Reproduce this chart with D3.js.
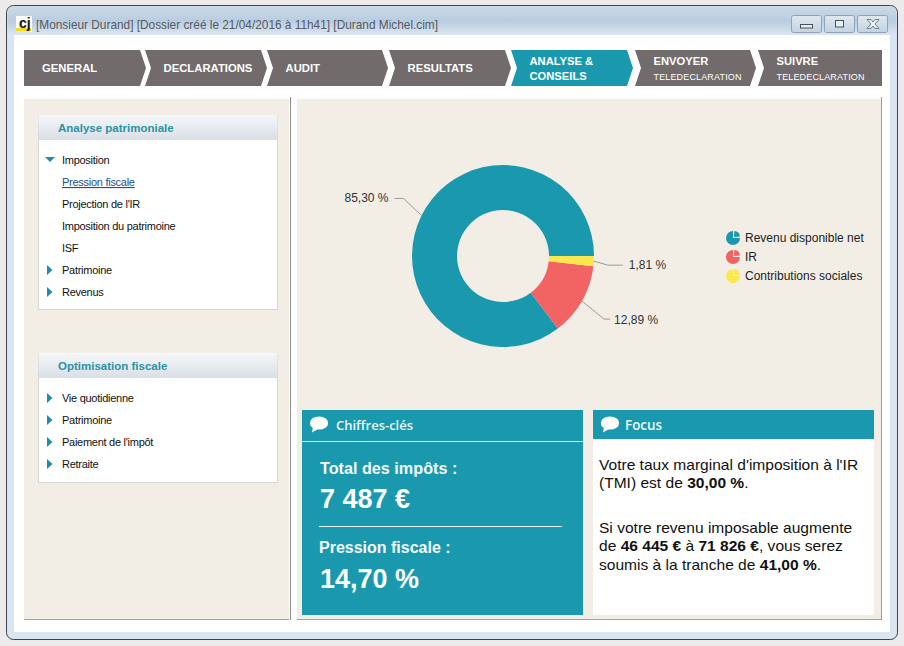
<!DOCTYPE html>
<html>
<head>
<meta charset="utf-8">
<script src="https://cdn.jsdelivr.net/npm/d3@7"></script>
<style>
  html, body { margin: 0; padding: 0; background: #eceaea; overflow: hidden; }
  svg { display: block; }
  text { font-family: "Liberation Sans", Arial, sans-serif; }
</style>
</head>
<body>
<div id="plot-container"></div>
<script>
// Chart values
const shareLabels = ["Revenu disponible net", "IR", "Contributions sociales"];
const shareValues = [85.30, 12.89, 1.81];
const shareTexts = ["85,30 %", "12,89 %", "1,81 %"];
const shareColors = ["#1a99ae", "#f26464", "#fde74e"];

// Screen texts
const navLabels = [["GENERAL"], ["DECLARATIONS"], ["AUDIT"], ["RESULTATS"], ["ANALYSE &", "CONSEILS"], ["ENVOYER", "TELEDECLARATION"], ["SUIVRE", "TELEDECLARATION"]];
const treeOne = ["Imposition", "Pression fiscale", "Projection de l'IR", "Imposition du patrimoine", "ISF", "Patrimoine", "Revenus"];
const treeTwo = ["Vie quotidienne", "Patrimoine", "Paiement de l'impôt", "Retraite"];

const teal = "#1a99ae", beige = "#f2eee6", grey = "#716c6b";

const svg = d3.select("#plot-container")
    .append("svg")
    .attr("width", 904)
    .attr("height", 646);

const defs = svg.append("defs");

function gradient(id, stops) {
    const g = defs.append("linearGradient").attr("id", id).attr("x1", 0).attr("y1", 0).attr("x2", 0).attr("y2", 1);
    stops.forEach((c, i) => g.append("stop").attr("offset", i / (stops.length - 1)).attr("stop-color", c));
}
gradient("titleBar", ["#cbd9e6", "#b9cde0", "#dce7f2"]);
gradient("boxHead", ["#f5f7f9", "#d9dfe7"]);
gradient("winButton", ["#dfe8f0", "#c3d3e2"]);

function rect(x, y, w, h, fill, parent) {
    return (parent || svg).append("rect").attr("x", x).attr("y", y).attr("width", w).attr("height", h).attr("fill", fill);
}
function label(x, y, str, size, color, weight, parent) {
    return (parent || svg).append("text").attr("x", x).attr("y", y).text(str)
        .attr("font-size", size).attr("fill", color).attr("font-weight", weight || "normal");
}
function hline(x1, x2, y, color) {
    svg.append("line").attr("x1", x1).attr("x2", x2).attr("y1", y).attr("y2", y).attr("stroke", color);
}

// Window frame
rect(6.5, 5.5, 891, 634, "#d9e5f0").attr("rx", 7).attr("stroke", "#3c4248");
rect(7.5, 6.5, 889, 29, "url(#titleBar)").attr("rx", 6);
rect(14, 35, 876, 597, "#fff");

// Title bar
rect(16, 16, 16, 16, "#fff");
rect(16, 28, 15, 3.5, "#f5dc1e");
label(19, 28, "cj", 14, "#111", "bold");
label(36, 29, "[Monsieur Durand] [Dossier créé le 21/04/2016 à 11h41] [Durand Michel.cim]", 11.85, "#555a60");

[791, 824, 857].forEach(x => {
    rect(x + 0.5, 15.5, 30, 17, "url(#winButton)").attr("rx", 2).attr("stroke", "#8ea3b7");
});
rect(800.5, 24.5, 12, 3.5, "#e6edf3").attr("stroke", "#4a5158");
rect(835.5, 20.5, 8, 6.5, "#e6edf3").attr("stroke", "#4a5158");
svg.append("path")
    .attr("d", "M867,19.5h4l2,2.5l2,-2.5h4l-4,4.5l4,4.5h-4l-2,-2.5l-2,2.5h-4l4,-4.5z")
    .attr("fill", "#eef3f7").attr("stroke", "#5a626a").attr("stroke-width", 0.8);

// Step bar
const navStarts = [24, 145, 267, 389, 511, 635, 758];
const navTips = [146, 267, 388, 511, 633, 756];
const navTop = 50, navBottom = 86, navMid = 68;
navLabels.forEach((lines, i) => {
    const x0 = navStarts[i], tip = navTips[i];
    const points = i === navLabels.length - 1
        ? [[x0, navTop], [882, navTop], [882, navBottom], [x0, navBottom], [x0 + 6, navMid]]
        : [[x0, navTop], [tip - 6, navTop], [tip, navMid], [tip - 6, navBottom], [x0, navBottom], [i ? x0 + 6 : x0, navMid]];
    svg.append("polygon").attr("points", points.join(" ")).attr("fill", i === 4 ? teal : grey);
    const tx = x0 + (i === 0 ? 18 : 18.5);
    if (lines.length === 1) {
        label(tx, 72, lines[0], 11.3, "#fff", "bold");
    } else {
        label(tx, 65, lines[0], 11.2, "#fff", "bold");
        if (lines[1] === "TELEDECLARATION") label(tx, 80, lines[1], 9, "#fff").attr("letter-spacing", 0.15);
        else label(tx, 80, lines[1], 11.2, "#fff", "bold");
    }
});

// Panels
rect(24, 99, 265, 520, beige);
rect(297, 99, 584, 520, beige);
svg.append("line").attr("x1", 290.5).attr("x2", 290.5).attr("y1", 97).attr("y2", 620).attr("stroke", "#8d8d8d");
hline(24, 289, 619.5, "#a8a296");
hline(297, 881, 619.5, "#a8a296");
svg.append("line").attr("x1", 881.5).attr("x2", 881.5).attr("y1", 97).attr("y2", 620).attr("stroke", "#9a9a9a");

// Side menus
function treeBox(y0, h, title, items, openIndex, subItems) {
    rect(38.5, y0 + 0.5, 239, h, "#fff").attr("stroke", "#d6d6d2");
    rect(38.5, y0, 239, 25, "url(#boxHead)");
    label(58, y0 + 17, title, 11.5, "#2a93a5", "bold");
    items.forEach((d, i) => {
        const y = y0 + 45 + i * 22;
        const isLink = d === "Pression fiscale";
        const t = label(62, y + 4, d, 11, isLink ? "#1f4e8c" : "#111").attr("letter-spacing", -0.27);
        if (isLink) t.attr("text-decoration", "underline");
        if (i === openIndex) {
            svg.append("path").attr("d", `M45,${y - 3}L55,${y - 3}L50,${y + 2}Z`).attr("fill", "#1f8ea3");
        } else if (!subItems.includes(d)) {
            svg.append("path").attr("d", `M47,${y - 5}L52.5,${y}L47,${y + 5}Z`).attr("fill", "#1f8ea3");
        }
    });
}
treeBox(115, 194, "Analyse patrimoniale", treeOne, 0, treeOne.slice(1, 5));
treeBox(353, 129, "Optimisation fiscale", treeTwo, -1, []);

// Donut
const cx = 503, cy = 256, outer = 91, inner = 46;
const color = d3.scaleOrdinal(shareLabels, shareColors);
const pie = d3.pie().sort(null).startAngle(Math.PI / 2).endAngle(Math.PI / 2 - 2 * Math.PI);
const slices = pie(shareValues);
const arc = d3.arc().innerRadius(inner).outerRadius(outer);
const rim = d3.arc().innerRadius(outer).outerRadius(outer);

const donut = svg.append("g").attr("transform", `translate(${cx},${cy})`);
donut.selectAll("path.slice")
    .data(slices)
    .enter()
    .append("path")
    .attr("class", "slice")
    .attr("d", arc)
    .attr("fill", (d, i) => color(shareLabels[i]));

// Leader lines hang off the rim of each slice
const elbows = [[-18, -17, -27], [22, 18, 28], [14, 4, 29]];
const labelGaps = [[-6, 4, "end"], [4, 5, "start"], [6, 4, "start"]];
donut.selectAll("polyline")
    .data(slices)
    .enter()
    .append("polyline")
    .attr("fill", "none")
    .attr("stroke", "#9c9a96")
    .attr("points", (d, i) => {
        const p = rim.centroid(d), e = elbows[i];
        return [p, [p[0] + e[0], p[1] + e[1]], [p[0] + e[2], p[1] + e[1]]].join(" ");
    });
donut.selectAll("text")
    .data(slices)
    .enter()
    .append("text")
    .attr("x", (d, i) => rim.centroid(d)[0] + elbows[i][2] + labelGaps[i][0])
    .attr("y", (d, i) => rim.centroid(d)[1] + elbows[i][1] + labelGaps[i][1])
    .attr("text-anchor", (d, i) => labelGaps[i][2])
    .attr("font-size", 12)
    .attr("fill", "#333")
    .text((d, i) => shareTexts[i]);

// Legend
const legendY = d3.scalePoint().domain(shareLabels).range([238, 276]);
const iconBody = d3.arc().innerRadius(0).outerRadius(7).startAngle(Math.PI / 2).endAngle(2 * Math.PI);
const iconWedge = d3.arc().innerRadius(0).outerRadius(6).startAngle(0.05).endAngle(Math.PI / 2 - 0.1);
shareLabels.forEach(d => {
    const g = svg.append("g").attr("transform", `translate(733,${legendY(d)})`);
    g.append("path").attr("d", iconBody).attr("fill", color(d));
    g.append("path").attr("d", iconWedge).attr("fill", color(d)).attr("transform", "translate(1,-1)");
    label(12, 4, d, 12, "#222", "normal", g);
});

// Speech bubble used by the two card headers
function bubble(x, y) {
    const g = svg.append("g").attr("transform", `translate(${x},${y})`);
    g.append("ellipse").attr("rx", 9.2).attr("ry", 6.6).attr("fill", "#fff");
    g.append("path").attr("d", "M-6,4L-7,9.5L-1,6Z").attr("fill", "#fff");
}

// Chiffres-cles card
rect(302, 410, 281, 205, teal);
hline(302, 583, 441.5, "#e8f4f6");
bubble(319, 423);
label(336, 430, "Chiffres-clés", 13, "#eef8fa").style("font-family", "'Open Sans'").attr("font-weight", 600);
label(320, 474, "Total des impôts :", 16.2, "#f4fbfc", "bold");
label(320, 508, "7 487 €", 27, "#fff", "bold");
hline(319, 562, 526.5, "#e8f4f6");
label(319, 553, "Pression fiscale :", 16, "#f4fbfc", "bold");
label(320, 588, "14,70 %", 27, "#fff", "bold");

// Focus card
rect(593, 410, 281, 205, "#fff");
rect(593, 410, 281, 29, teal);
bubble(610, 423);
label(625, 430, "Focus", 13.4, "#eef8fa").style("font-family", "'Open Sans'").attr("font-weight", 600);

const focusLines = [
    [470, [["Votre taux marginal d'imposition à l'IR", 0]]],
    [488, [["(TMI) est de ", 0], ["30,00 %", 1], [".", 0]]],
    [533, [["Si votre revenu imposable augmente", 0]]],
    [551, [["de ", 0], ["46 445 €", 1], [" à ", 0], ["71 826 €", 1], [", vous serez", 0]]],
    [570, [["soumis à la tranche de ", 0], ["41,00 %", 1], [".", 0]]]
];
focusLines.forEach(([y, parts]) => {
    const t = svg.append("text").attr("x", 599).attr("y", y).attr("font-size", 15.55).attr("fill", "#111")
        .style("white-space", "pre");
    parts.forEach(([s, b]) => t.append("tspan").text(s).attr("font-weight", b ? "bold" : "normal"));
});
</script>
</body>
</html>
